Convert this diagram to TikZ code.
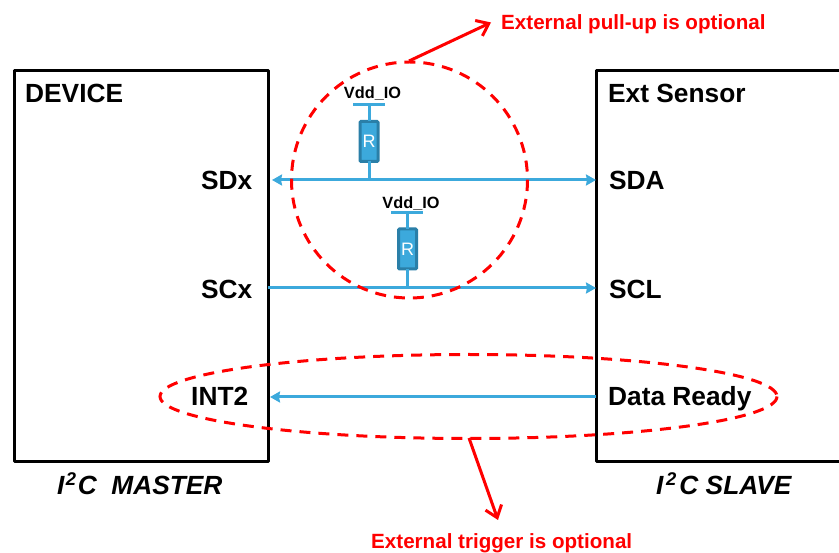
\documentclass[tikz,border=0pt]{standalone}
\usepackage{fontspec}
\setmainfont{Liberation Sans}
\usetikzlibrary{arrows.meta}
\definecolor{wire}{HTML}{3CA9DC}
\definecolor{resedge}{HTML}{2A7FA8}
\definecolor{redmark}{HTML}{FF0000}
\tikzset{
  x=1pt,y=-1pt,
  unit/.style={draw=black,line width=3pt,line join=round,inner sep=0pt,outer sep=0pt,anchor=north west},
  pinlabel/.style={font=\fontsize{26.3}{28}\selectfont\bfseries,inner sep=0pt,anchor=base west},
  rolelabel/.style={font=\fontsize{26.3}{28}\selectfont\bfseries\itshape,inner sep=0pt,anchor=base west},
  notelabel/.style={font=\fontsize{20.6}{22}\selectfont\bfseries,text=redmark,inner sep=0pt,anchor=base west},
  supply/.style={font=\fontsize{16.3}{18}\selectfont\bfseries,inner sep=0pt,anchor=base},
  bus/.style={draw=wire,line width=3pt},
  busarrow/.style={bus,-{Stealth[length=10pt,width=11pt,inset=1pt]}},
  busboth/.style={bus,{Stealth[length=10pt,width=11pt,inset=1pt]}-{Stealth[length=10pt,width=11pt,inset=1pt]}},
  resistor/.style={draw=resedge,fill=wire,line width=3pt,rounded corners=1pt,minimum width=18pt,minimum height=40pt,inner sep=0pt,outer sep=0pt,text=white,font=\fontsize{18}{20}\selectfont},
  railbar/.style={draw=wire,line width=3pt},
  optional/.style={draw=redmark,line width=3pt,dash pattern=on 11pt off 8pt},
  callout/.style={draw=redmark,line width=3pt,-{Straight Barb[length=11pt,width=17pt,line width=3pt]}},
}
\begin{document}
\begin{tikzpicture}
\useasboundingbox (0,0) rectangle (839,553);
\fill[white] (0,0) rectangle (839,553);
% units
\node[unit,minimum width=254pt,minimum height=391pt] (master) at (14,71) {};
\node[unit,minimum width=280pt,minimum height=391pt] (slave) at (596,71) {};
% labels
\node[pinlabel] (device) at (25,103) {DEVICE};
\node[pinlabel] (ext) at (608,103) {Ext Sensor};
\node[pinlabel] (sdx) at (201,190) {SDx};
\node[pinlabel] (scx) at (201,299) {SCx};
\node[pinlabel] (int) at (191,406) {INT2};
\node[pinlabel] (sda) at (609,190) {SDA};
\node[pinlabel] (scl) at (609,299) {SCL};
\node[pinlabel] (dr) at (608,406) {Data Ready};
\node[rolelabel] (mrole) at (57,495) {I\kern1.3pt\textsuperscript{2}\kern1.3pt C\ \ MASTER};
\node[rolelabel] (srole) at (656,495) {I\kern2.6pt\textsuperscript{2}\kern2.6pt C SLAVE};
% bus ends
\coordinate (sdaL) at (272,180);
\coordinate (sdaR) at (596,180);
\coordinate (sclL) at (268,288);
\coordinate (sclR) at (596,288);
\coordinate (intL) at (270,397);
\coordinate (intR) at (596,397);
\draw[busboth] (sdaL) -- (sdaR);
\draw[busarrow] (sclL) -- (sclR);
\draw[busarrow] (intR) -- (intL);
% pull-ups
\coordinate (tapA) at (369,180);
\coordinate (railA) at (369,105);
\coordinate (railAl) at (353,105);
\coordinate (railAr) at (385,105);
\node[resistor] (ra) at (369,141.5) {R};
\node[supply] (vdda) at (372.5,99) {Vdd\_IO};
\draw[railbar] (railAl) -- (railAr);
\draw[bus] (railA) -- (ra.north);
\draw[bus] (ra.south) -- (tapA);
\coordinate (tapB) at (407.5,288);
\coordinate (railB) at (407.5,213);
\coordinate (railBl) at (391,213);
\coordinate (railBr) at (423,213);
\node[resistor] (rb) at (407.5,249) {R};
\node[supply] (vddb) at (411,208.5) {Vdd\_IO};
\draw[railbar] (railBl) -- (railBr);
\draw[bus] (railB) -- (rb.north);
\draw[bus] (rb.south) -- (tapB);
% optional regions
\draw[optional] (409.5,180) ellipse [x radius=118,y radius=118];
\draw[optional] (468.5,396.5) ellipse [x radius=308.5,y radius=42];
% callouts
\node[notelabel] (notea) at (501,30) {External pull-up is optional};
\node[notelabel] (noteb) at (371,548) {External trigger is optional};
\coordinate (circTop) at (409,61);
\coordinate (noteaTip) at (491,22.5);
\coordinate (ellBot) at (469,438);
\coordinate (notebTip) at (498,520);
\draw[callout] (circTop) -- (noteaTip);
\draw[callout] (ellBot) -- (notebTip);
\end{tikzpicture}
\end{document}
